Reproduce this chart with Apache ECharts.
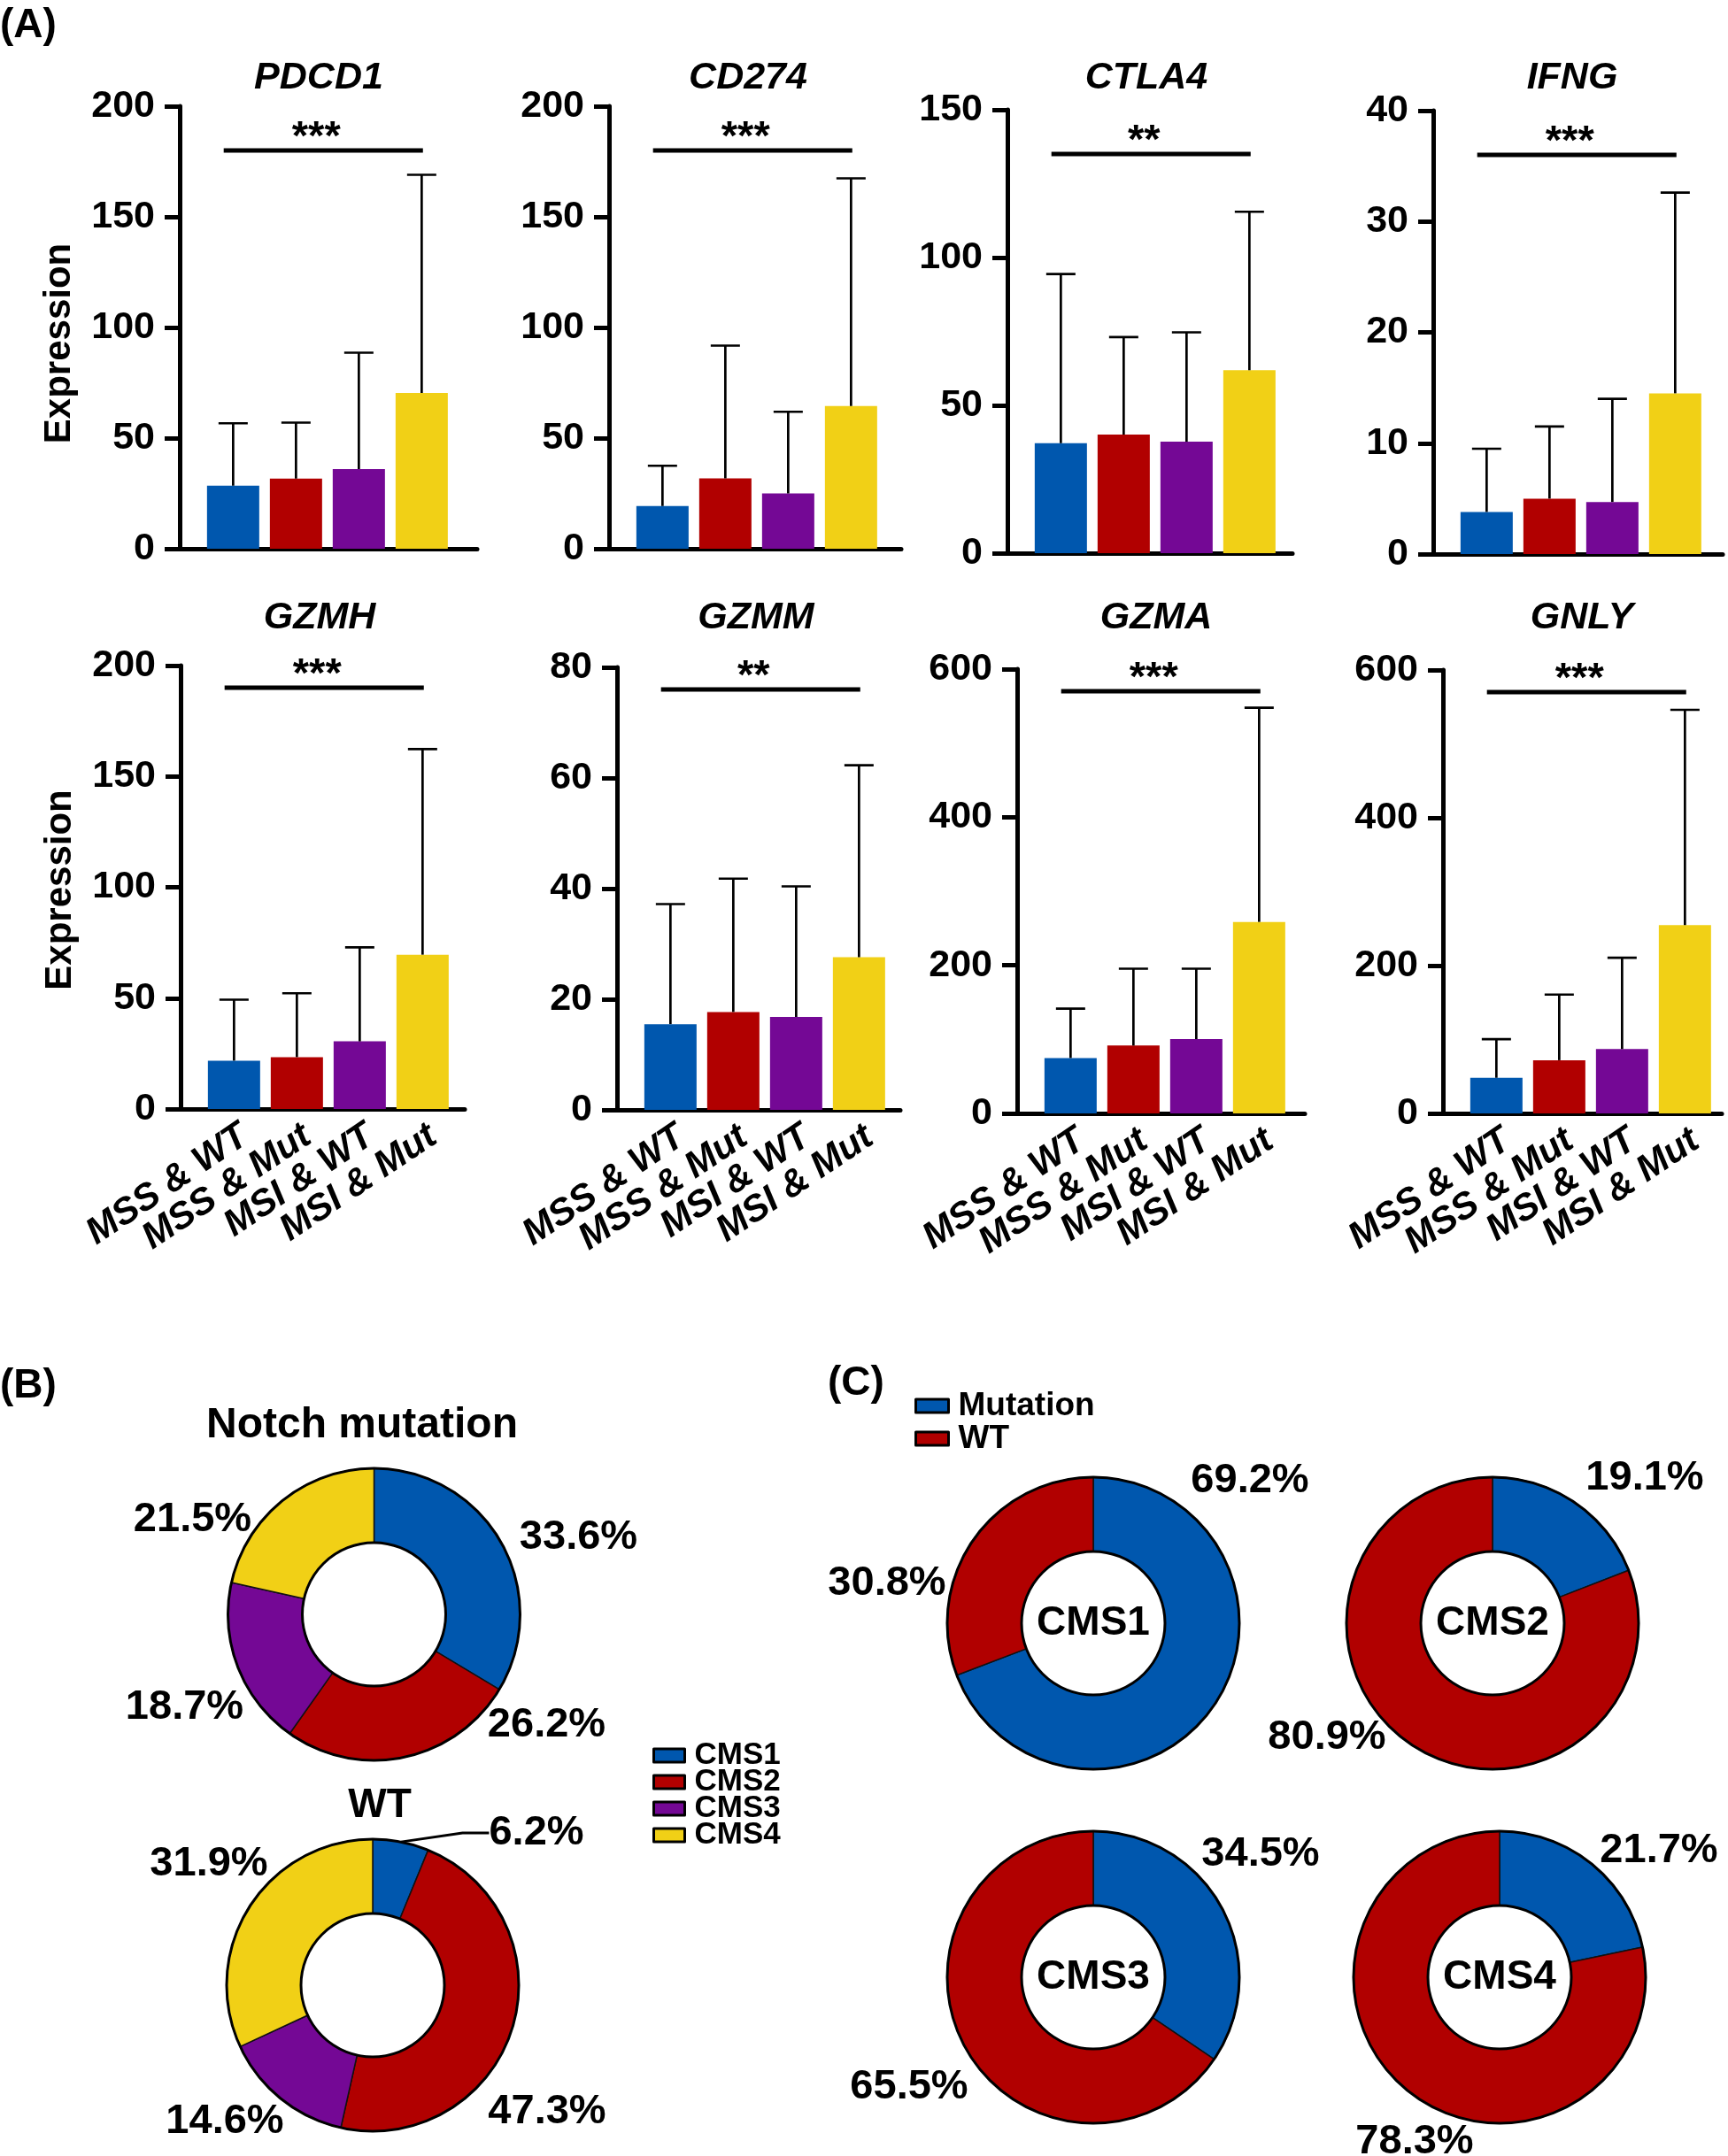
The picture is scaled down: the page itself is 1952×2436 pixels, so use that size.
<!DOCTYPE html>
<html>
<head>
<meta charset="utf-8">
<script src="https://cdn.jsdelivr.net/npm/echarts@6/dist/echarts.min.js"></script>
<style>
  html, body { margin: 0; padding: 0; background: #fff; }
  #chart { width: 1952px; height: 2436px; }
</style>
</head>
<body>
<div id="chart"></div>
<script>
// ---------------- DATA ----------------
const categories = ['MSS & WT', 'MSS & Mut', 'MSI & WT', 'MSI & Mut'];
const genes = ['PDCD1', 'CD274', 'CTLA4', 'IFNG', 'GZMH', 'GZMM', 'GZMA', 'GNLY'];
const yMaxValues = [200, 200, 150, 40, 200, 80, 600, 600];
const yTickSteps = [50, 50, 50, 10, 50, 20, 200, 200];
const significance = ['***', '***', '**', '***', '***', '**', '***', '***'];

// mean expression per group
const meanPDCD1 = [28.5, 31.7, 36.0, 70.4];
const meanCD274 = [19.3, 31.8, 25.0, 64.5];
const meanCTLA4 = [37.2, 40.1, 37.7, 61.9];
const meanIFNG  = [3.8, 5.0, 4.7, 14.5];
const meanGZMH  = [21.8, 23.4, 30.5, 69.6];
const meanGZMM  = [15.5, 17.7, 16.8, 27.6];
const meanGZMA  = [74.8, 91.6, 100.3, 258.6];
const meanGNLY  = [48.2, 72.0, 87.1, 254.8];
// upper end of error bar (mean + SD)
const upperPDCD1 = [56.7, 57.0, 88.6, 169.0];
const upperCD274 = [37.5, 91.8, 61.9, 167.4];
const upperCTLA4 = [94.4, 73.1, 74.7, 115.5];
const upperIFNG  = [9.5, 11.5, 14.0, 32.6];
const upperGZMH  = [49.3, 52.2, 72.9, 162.3];
const upperGZMM  = [37.2, 41.8, 40.4, 62.3];
const upperGZMA  = [141.4, 195.4, 195.4, 547.8];
const upperGNLY  = [100.4, 160.8, 210.7, 546.1];

const cmsNames = ['CMS1', 'CMS2', 'CMS3', 'CMS4'];
const notchMutationPct = [33.6, 26.2, 18.7, 21.5];
const notchWTPct = [6.2, 47.3, 14.6, 31.9];
const statusNames = ['Mutation', 'WT'];
const cms1Pct = [69.2, 30.8];
const cms2Pct = [19.1, 80.9];
const cms3Pct = [34.5, 65.5];
const cms4Pct = [21.7, 78.3];

// ---------------- LAYOUT / STYLE ----------------
const FONT = '"Liberation Sans", Arial, Helvetica, sans-serif';
const PALETTE = ['#0057AE', '#B10000', '#740895', '#F1D016'];
const means = [meanPDCD1, meanCD274, meanCTLA4, meanIFNG, meanGZMH, meanGZMM, meanGZMA, meanGNLY];
const uppers = [upperPDCD1, upperCD274, upperCTLA4, upperIFNG, upperGZMH, upperGZMM, upperGZMA, upperGNLY];

const panels = [
  {left: 203, top: 120, height: 500, width: 336}, {left: 688, top: 120, height: 500, width: 330},
  {left: 1138, top: 124, height: 501, width: 322}, {left: 1619, top: 125, height: 501, width: 327},
  {left: 204, top: 752, height: 501, width: 321}, {left: 697, top: 754, height: 500, width: 320},
  {left: 1149, top: 756, height: 502, width: 325}, {left: 1630, top: 757, height: 501, width: 315}
];
const XMIN = -0.85, PX_PER_GROUP = 71;
const titleY = [88, 88, 88, 88, 698, 698, 698, 698];
const sigFrac = [0.9, 0.9, 0.9, 0.9, 0.95, 0.95, 0.95, 0.95];

const grids = [], xAxes = [], yAxes = [], series = [], graphics = [];

panels.forEach((p, i) => {
  grids.push({left: p.left, top: p.top, width: p.width, height: p.height});
  xAxes.push({
    gridIndex: i, type: 'value', min: XMIN, max: XMIN + p.width / PX_PER_GROUP,
    splitLine: {show: false}, axisTick: {show: false},
    axisLine: {lineStyle: {color: '#000', width: 5}},
    axisLabel: {show: false}
  });
  yAxes.push({
    gridIndex: i, type: 'value', min: 0, max: yMaxValues[i], interval: yTickSteps[i],
    splitLine: {show: false},
    axisLine: {show: true, onZero: false, lineStyle: {color: '#000', width: 5}},
    axisTick: {show: true, length: 17, lineStyle: {color: '#000', width: 5}},
    axisLabel: {fontSize: 43, fontWeight: 'bold', color: '#000', margin: 28, fontFamily: FONT},
    name: i % 4 === 0 ? 'Expression' : '',
    nameLocation: 'middle', nameGap: 115,
    nameTextStyle: {fontSize: 42, fontWeight: 'bold', color: '#000', fontFamily: FONT,
      padding: i === 0 ? [0, 36, 0, 0] : [0, 6, 0, 0]}
  });
  series.push({
    type: 'bar', xAxisIndex: i, yAxisIndex: i, barWidth: 59, silent: true,
    data: means[i].map((v, j) => [j, v]),
    itemStyle: {color: (prm) => PALETTE[prm.dataIndex]}
  });
  series.push({
    type: 'custom', xAxisIndex: i, yAxisIndex: i, silent: true, z: 5,
    data: means[i].map((v, j) => [j, v, uppers[i][j]]),
    renderItem: (params, api) => {
      const b = api.coord([api.value(0), api.value(1)]);
      const t = api.coord([api.value(0), api.value(2)]);
      return {type: 'group', children: [
        {type: 'line', shape: {x1: b[0], y1: b[1], x2: t[0], y2: t[1]}, style: {stroke: '#000', lineWidth: 2.7}},
        {type: 'line', shape: {x1: t[0] - 16.5, y1: t[1], x2: t[0] + 16.5, y2: t[1]}, style: {stroke: '#000', lineWidth: 2.7}}
      ]};
    }
  });
  series.push({
    type: 'custom', xAxisIndex: i, yAxisIndex: i, silent: true, z: 5,
    data: [[-0.15, 3.02, sigFrac[i] * yMaxValues[i]]],
    renderItem: (params, api) => {
      const a = api.coord([api.value(0), api.value(2)]);
      const b = api.coord([api.value(1), api.value(2)]);
      return {type: 'group', children: [
        {type: 'line', shape: {x1: a[0], y1: a[1], x2: b[0], y2: b[1]}, style: {stroke: '#000', lineWidth: 5}},
        {type: 'text', style: {text: significance[i], x: (a[0] + b[0]) / 2 - 8, y: a[1] - 14,
          align: 'center', verticalAlign: 'middle', fontSize: 47, fontWeight: 'bold', fontFamily: FONT, fill: '#000'}}
      ]};
    }
  });
  if (i >= 4) {
    // rotated category labels under the bottom-row axes, anchored at each category position
    series.push({
      type: 'custom', xAxisIndex: i, yAxisIndex: i, silent: true, clip: false, z: 6,
      data: categories.map((c, j) => [j, 0]),
      renderItem: (params, api) => {
        const pt = api.coord([api.value(0), api.value(1)]);
        return {type: 'text', x: pt[0] + 12, y: pt[1] + 27, rotation: 34 * Math.PI / 180,
          style: {text: categories[params.dataIndex], fontSize: 42, fontWeight: 'bold', fontStyle: 'italic',
            fontFamily: FONT, fill: '#000', align: 'right', verticalAlign: 'middle'}};
      }
    });
  }
  graphics.push({type: 'text', x: p.left + 157, y: titleY[i], silent: true,
    style: {text: genes[i], fontSize: 43, fontWeight: 'bold', fontStyle: 'italic', fontFamily: FONT,
      fill: '#000', align: 'center', verticalAlign: 'middle', textAlign: 'center', textVerticalAlign: 'middle'}});
});

// ---------------- PIES ----------------
const pies = [
  {center: [422.5, 1824], names: cmsNames, values: notchMutationPct,
   labelOffsets: [[231, -87], [195, 125], [-214, 105], [-205, -107]]},
  {center: [421, 2243], names: cmsNames, values: notchWTPct,
   labelOffsets: [[185, -172], [197, 143], [-167, 154], [-185, -137]], leader: 0},
  {center: [1235, 1834], names: statusNames, values: cms1Pct, labelOffsets: [[177, -161], [-233, -45]], inner: 'CMS1'},
  {center: [1686, 1834], names: statusNames, values: cms2Pct, labelOffsets: [[172, -164], [-187, 129]], inner: 'CMS2'},
  {center: [1235, 2234], names: statusNames, values: cms3Pct, labelOffsets: [[189, -139], [-208, 124]], inner: 'CMS3'},
  {center: [1694, 2234], names: statusNames, values: cms4Pct, labelOffsets: [[180, -143], [-96, 186]], inner: 'CMS4'}
];
const R = [81, 165];

pies.forEach((pc) => {
  series.push({
    type: 'pie', center: pc.center, radius: R, startAngle: 90, clockwise: true, silent: true,
    emphasis: {disabled: true},
    data: pc.values.map((v, j) => ({
      name: pc.names[j], value: v,
      itemStyle: {color: PALETTE[j]},
      labelLine: pc.leader === j ? {show: true, length: 8, length2: 30, lineStyle: {color: '#000', width: 3}} : {show: false}
    })),
    itemStyle: {borderColor: '#111', borderWidth: 1.5},
    label: {show: true, position: 'outside', overflow: 'none', formatter: (prm) => prm.value.toFixed(1) + '%',
      fontSize: 47, fontWeight: 'bold', color: '#000', fontFamily: FONT},
    labelLine: {show: false},
    labelLayout: (prm) => ({
      x: pc.center[0] + pc.labelOffsets[prm.dataIndex][0],
      y: pc.center[1] + pc.labelOffsets[prm.dataIndex][1],
      align: 'center', verticalAlign: 'middle'
    })
  });
  // black outline ring
  series.push({
    type: 'pie', center: pc.center, radius: R, silent: true, emphasis: {disabled: true}, z: 3,
    data: [{name: '_ring', value: 1}],
    itemStyle: {color: 'rgba(0,0,0,0)', borderColor: '#000', borderWidth: 3},
    label: {show: false}, labelLine: {show: false}
  });
  if (pc.inner) {
    graphics.push({type: 'text', x: pc.center[0], y: pc.center[1], silent: true,
      style: {text: pc.inner, fontSize: 46, fontWeight: 'bold', fontFamily: FONT, fill: '#000',
        align: 'center', verticalAlign: 'middle', textAlign: 'center', textVerticalAlign: 'middle'}});
  }
});

function freeText(text, x, y, size, align) {
  graphics.push({type: 'text', x: x, y: y, silent: true,
    style: {text: text, fontSize: size, fontWeight: 'bold', fontFamily: FONT, fill: '#000',
      align: align, verticalAlign: 'middle', textAlign: align, textVerticalAlign: 'middle'}});
}
freeText('(A)', 0, 29, 46, 'left');
freeText('(B)', 0, 1566, 46, 'left');
freeText('(C)', 935, 1563, 46, 'left');
freeText('Notch mutation', 409, 1611, 48, 'center');
freeText('WT', 429, 2040, 46, 'center');

const option = {
  animation: false,
  backgroundColor: '#fff',
  color: PALETTE,
  textStyle: {fontFamily: FONT},
  grid: grids, xAxis: xAxes, yAxis: yAxes, series: series,
  legend: [
    {data: cmsNames, orient: 'vertical', left: 737, top: 1966, padding: 0, itemGap: -5,
     itemWidth: 35, itemHeight: 15, icon: 'rect', selectedMode: false,
     itemStyle: {borderColor: '#000', borderWidth: 3},
     textStyle: {fontSize: 35, fontWeight: 'bold', color: '#000', fontFamily: FONT, padding: [0, 0, 0, 6]}},
    {data: statusNames, orient: 'vertical', left: 1033, top: 1570, padding: 0, itemGap: 0,
     itemWidth: 37, itemHeight: 15, icon: 'rect', selectedMode: false,
     itemStyle: {borderColor: '#000', borderWidth: 3},
     textStyle: {fontSize: 37, fontWeight: 'bold', color: '#000', lineHeight: 35, fontFamily: FONT, padding: [0, 0, 0, 6]}}
  ],
  graphic: graphics
};

const chart = echarts.init(document.getElementById('chart'), null, {renderer: 'canvas'});
chart.setOption(option);
</script>
</body>
</html>
